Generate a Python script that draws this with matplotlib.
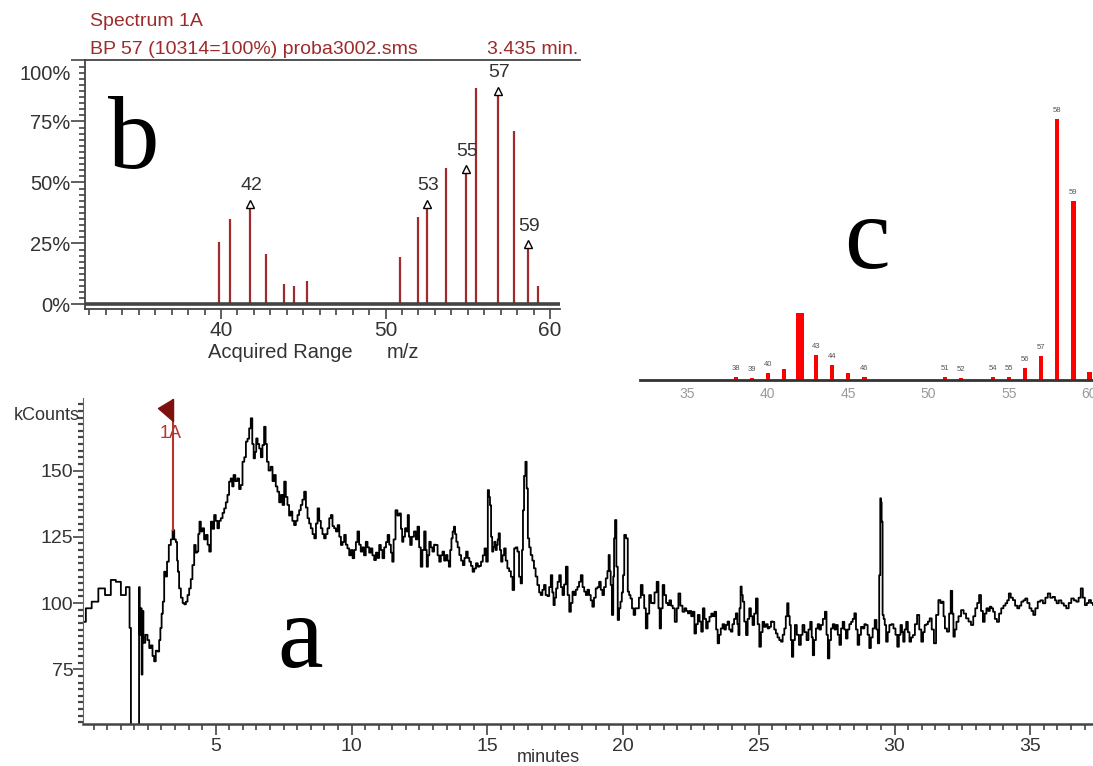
import numpy as np
import matplotlib
matplotlib.use('Agg')
import matplotlib.pyplot as plt
from matplotlib.path import Path
from matplotlib.transforms import ScaledTranslation

# ---------------- data ----------------
# (a) total ion chromatogram: retention time (min) and kCounts
time_min = [
 0.12,0.31,0.55,0.80,1.04,1.23,1.41,1.60,1.78,1.87,1.88,2.17,2.18,2.22,2.25,2.29,2.31,2.36,2.45,2.52,
 2.58,2.64,2.70,2.76,2.82,2.89,2.94,2.98,3.03,3.07,3.13,3.18,3.23,3.31,3.38,3.44,3.50,3.56,3.59,3.62,
 3.68,3.75,3.81,3.87,3.93,3.99,4.05,4.11,4.17,4.24,4.28,4.33,4.38,4.42,4.48,4.54,4.60,4.67,4.73,4.79,
 4.85,4.91,4.97,5.03,5.09,5.15,5.22,5.28,5.34,5.40,5.46,5.52,5.58,5.63,5.68,5.76,5.83,5.89,5.95,6.02,
 6.08,6.14,6.20,6.26,6.32,6.37,6.42,6.47,6.51,6.57,6.63,6.69,6.75,6.81,6.86,6.91,6.98,7.06,7.12,7.18,
 7.24,7.30,7.37,7.43,7.49,7.55,7.61,7.67,7.73,7.79,7.85,7.92,7.98,8.04,8.10,8.16,8.22,8.29,8.35,8.41,
 8.47,8.53,8.60,8.66,8.72,8.78,8.84,8.90,8.96,9.02,9.08,9.15,9.21,9.27,9.33,9.39,9.46,9.52,9.58,9.64,
 9.70,9.76,9.82,9.88,9.95,10.01,10.07,10.13,10.19,10.25,10.31,10.37,10.43,10.49,10.56,10.62,10.68,10.74,10.80,10.87,
 10.93,10.99,11.05,11.11,11.17,11.24,11.30,11.36,11.42,11.48,11.52,11.58,11.66,11.72,11.79,11.85,11.88,11.94,12.00,12.05,
 12.09,12.14,12.18,12.26,12.34,12.40,12.46,12.52,12.58,12.64,12.71,12.75,12.79,12.84,12.89,12.95,13.01,13.07,13.14,13.20,
 13.26,13.32,13.38,13.44,13.51,13.56,13.61,13.66,13.70,13.75,13.79,13.84,13.88,13.94,14.00,14.07,14.13,14.19,14.25,14.31,
 14.37,14.43,14.49,14.55,14.62,14.68,14.74,14.80,14.87,14.93,14.99,15.05,15.08,15.12,15.16,15.20,15.24,15.28,15.33,15.37,
 15.40,15.44,15.49,15.53,15.59,15.65,15.71,15.77,15.84,15.90,15.96,16.02,16.08,16.14,16.20,16.26,16.30,16.33,16.38,16.43,
 16.47,16.52,16.57,16.63,16.69,16.75,16.81,16.88,16.94,17.00,17.06,17.12,17.18,17.25,17.31,17.37,17.42,17.46,17.51,17.56,
 17.62,17.68,17.74,17.80,17.86,17.93,17.99,18.05,18.11,18.17,18.23,18.29,18.35,18.41,18.48,18.54,18.60,18.66,18.72,18.78,
 18.84,18.90,18.96,19.03,19.09,19.15,19.21,19.27,19.33,19.40,19.45,19.49,19.53,19.56,19.62,19.66,19.68,19.73,19.78,19.83,
 19.88,19.93,19.98,20.02,20.07,20.15,20.20,20.25,20.30,20.36,20.42,20.48,20.55,20.62,20.69,20.75,20.81,20.87,20.93,21.00,
 21.06,21.12,21.20,21.28,21.33,21.37,21.43,21.49,21.55,21.62,21.68,21.74,21.80,21.86,21.95,22.01,22.07,22.15,22.23,22.30,
 22.36,22.42,22.48,22.54,22.60,22.66,22.72,22.79,22.85,22.91,22.97,23.03,23.09,23.15,23.22,23.28,23.34,23.40,23.46,23.51,
 23.57,23.63,23.70,23.76,23.82,23.88,23.94,24.00,24.06,24.12,24.19,24.23,24.27,24.31,24.35,24.39,24.43,24.50,24.56,24.62,
 24.68,24.74,24.80,24.86,24.93,24.99,25.05,25.11,25.17,25.23,25.30,25.36,25.42,25.48,25.54,25.60,25.66,25.72,25.79,25.85,
 25.91,25.97,26.02,26.07,26.12,26.16,26.20,26.24,26.30,26.36,26.44,26.52,26.58,26.64,26.72,26.80,26.86,26.93,26.97,27.01,
 27.07,27.14,27.20,27.26,27.32,27.40,27.47,27.52,27.57,27.63,27.69,27.76,27.82,27.88,27.94,28.00,28.06,28.12,28.18,28.24,
 28.30,28.37,28.43,28.49,28.55,28.61,28.67,28.73,28.80,28.86,28.92,28.98,29.04,29.10,29.16,29.23,29.31,29.36,29.41,29.46,
 29.49,29.51,29.54,29.58,29.62,29.66,29.72,29.78,29.84,29.92,30.00,30.07,30.13,30.19,30.25,30.30,30.34,30.40,30.46,30.52,
 30.58,30.64,30.71,30.79,30.87,30.95,31.02,31.08,31.14,31.20,31.26,31.33,31.41,31.49,31.57,31.66,31.72,31.78,31.83,31.88,
 31.98,32.04,32.10,32.15,32.19,32.25,32.31,32.40,32.50,32.59,32.68,32.77,32.86,32.94,33.01,33.08,33.15,33.22,33.29,33.35,
 33.42,33.48,33.54,33.60,33.66,33.73,33.81,33.89,33.97,34.05,34.12,34.18,34.24,34.32,34.40,34.48,34.56,34.63,34.71,34.78,
 34.85,34.93,35.01,35.08,35.14,35.23,35.32,35.42,35.51,35.60,35.69,35.78,35.88,35.94,36.00,36.10,36.19,36.28,36.37,36.46,
 36.56,36.65,36.74,36.82,36.90,36.97,37.05,37.12,37.20,37.27,37.34]
kcounts = [
 92.9,98.0,100.5,105.5,103.0,108.7,108.0,103.0,106.0,90.6,50.0,50.0,106.0,88.0,98.0,73.0,97.0,85.0,88.0,86.0,
 83.0,84.0,80.0,78.0,82.0,81.7,86.0,90.6,96.0,100.5,111.8,110.0,115.6,121.9,124.0,127.5,124.0,123.0,116.0,111.8,
 105.5,102.0,100.0,99.5,100.5,103.0,105.5,109.0,114.3,121.9,119.0,119.4,126.0,130.7,127.0,128.2,124.0,125.7,122.0,119.4,
 130.7,128.0,133.2,131.0,128.2,131.0,132.0,134.0,135.7,138.0,140.8,145.8,147.0,144.0,148.3,146.0,147.0,143.0,144.5,153.3,
 155.0,160.9,162.0,165.9,169.7,160.0,154.6,157.0,162.1,160.0,158.3,155.0,159.6,166.5,160.0,153.3,150.0,151.4,146.0,148.3,
 144.0,142.0,138.0,140.8,137.0,145.8,140.0,137.0,133.0,134.5,131.0,129.4,131.0,133.2,135.0,137.0,139.0,142.0,136.0,132.0,
 130.0,128.2,126.0,124.4,130.0,135.7,131.0,128.2,126.0,124.4,126.0,128.2,132.0,133.2,129.0,128.2,127.0,129.4,125.0,121.9,
 123.0,125.7,122.0,120.6,118.0,120.0,116.9,120.0,123.0,127.0,122.0,119.4,121.0,118.0,123.1,121.0,119.0,120.6,118.0,116.2,
 119.0,117.0,121.9,120.0,116.9,121.0,123.0,125.7,122.0,119.0,115.6,124.0,135.0,133.0,133.8,128.0,123.1,125.0,128.2,127.0,
 133.2,125.0,121.9,125.0,127.0,124.0,128.8,121.0,113.7,120.0,127.0,120.0,113.7,118.0,123.1,121.0,119.4,122.0,121.9,118.0,
 115.6,118.0,119.4,116.0,118.1,116.0,113.7,120.0,124.4,127.0,128.8,126.0,123.1,121.0,118.1,116.0,114.3,117.0,119.4,117.0,
 115.6,114.0,111.8,113.0,115.0,113.7,114.0,115.6,118.0,120.6,115.6,142.6,140.0,136.9,125.0,119.4,121.0,123.1,120.0,121.9,
 124.0,126.3,120.0,115.6,118.0,120.6,116.0,113.1,112.0,109.9,104.9,120.6,121.0,119.4,109.9,107.4,120.0,135.0,148.0,153.3,
 143.2,124.4,121.0,118.1,116.0,113.1,110.0,106.8,104.0,103.0,105.0,106.8,103.0,102.6,106.0,110.5,104.0,99.2,102.0,105.5,
 108.0,110.5,106.0,103.0,107.0,113.7,103.0,96.7,100.0,104.3,103.0,105.0,106.1,108.0,110.5,106.0,104.3,103.0,105.0,103.0,
 101.0,98.6,102.0,105.5,106.0,108.0,105.0,103.0,106.0,109.3,112.0,118.1,112.0,106.8,95.5,110.0,124.4,131.3,113.7,93.6,
 98.0,100.5,104.0,110.5,125.7,124.4,104.3,103.0,101.7,98.0,95.5,98.0,98.0,102.0,106.8,103.0,98.0,90.4,96.0,103.0,
 100.0,99.9,104.0,108.0,98.0,90.4,98.0,106.8,103.0,100.0,99.2,101.0,99.0,98.0,92.9,98.0,103.6,99.0,96.7,98.0,
 97.0,96.1,97.0,95.0,96.7,88.5,92.0,95.5,93.0,89.2,98.0,94.0,90.4,93.0,94.8,96.0,95.0,96.7,90.0,84.8,
 88.0,90.4,92.0,90.0,91.7,93.0,90.0,89.2,92.0,94.0,96.1,92.0,87.9,98.0,106.2,103.0,100.5,93.0,87.9,94.0,
 98.0,95.0,91.7,96.0,101.7,92.0,83.5,89.0,92.9,91.0,92.0,90.4,91.0,93.0,92.9,90.0,88.5,87.0,86.0,85.4,
 88.0,90.4,95.0,99.9,95.0,91.7,86.0,79.7,86.0,91.7,88.0,84.2,88.0,91.7,89.0,86.0,90.0,92.9,87.0,80.3,
 86.0,90.4,92.0,90.0,91.7,94.0,96.7,88.0,79.1,86.0,90.4,92.0,90.0,91.7,88.0,84.2,90.4,92.9,90.0,86.6,
 90.0,92.0,92.9,94.0,96.1,90.0,84.2,88.0,91.0,90.4,92.0,91.7,88.0,83.0,87.0,90.4,93.6,90.0,84.8,110.5,
 139.5,138.0,130.7,95.5,94.0,91.7,85.4,89.0,91.7,92.0,90.4,88.0,83.5,88.0,91.7,89.0,85.4,90.0,92.9,89.0,
 85.4,87.0,87.9,92.0,95.5,90.0,85.4,89.0,91.7,92.0,93.0,94.2,90.0,84.8,95.5,101.1,100.0,100.5,95.0,90.4,
 89.2,96.0,104.6,96.0,87.3,90.0,92.9,95.0,97.3,96.0,94.2,93.0,91.7,95.0,98.0,100.0,103.0,97.0,92.9,96.0,
 98.0,97.0,98.6,98.0,96.7,94.0,92.9,96.0,98.0,99.0,99.9,101.0,103.6,102.0,101.1,99.0,98.0,99.0,100.5,101.0,
 101.7,100.0,98.0,97.0,95.5,98.0,100.5,101.0,99.9,102.0,103.6,102.0,102.3,101.0,99.9,101.0,99.9,99.0,98.0,100.0,
 101.7,101.0,100.5,102.0,105.5,102.0,99.2,100.0,101.1,100.0,99.2]
a_xticks = [5, 10, 15, 20, 25, 30, 35]
a_yticks = [75, 100, 125, 150]
spectrum_time = 3.435

# (b) mass spectrum at 3.435 min (relative abundance, %)
mz_b = [39.9, 40.55, 41.76, 42.74, 43.85, 44.44, 45.25, 50.85, 51.96, 52.51,
        53.66, 54.88, 55.49, 56.86, 57.81, 58.64, 59.29]
int_b = [25.5, 34.9, 41.2, 20.7, 8.3, 7.7, 9.8, 19.6, 35.9, 41.2,
         56.1, 55.4, 88.6, 87.6, 71.1, 24.7, 7.7]
lab_b = ['', '', '42', '', '', '', '', '', '', '53',
         '', '55', '', '57', '', '59', '']
b_xticks = [40, 50, 60]
b_yticks = [0, 25, 50, 75, 100]
b_yticklabels = ['0%', '25%', '50%', '75%', '100%']

# (c) library spectrum (relative abundance)
mz_c = [38, 39, 40, 41, 42, 43, 44, 45, 46, 51, 52, 54, 55, 56, 57, 58, 59, 60]
int_c = [1.0, 0.9, 2.6, 4.3, 25.6, 9.5, 5.6, 2.6, 1.0, 1.0, 0.9, 1.0, 1.0,
         4.7, 9.2, 100.0, 68.7, 3.2]
lab_c = ['38', '39', '40', '', '', '43', '44', '', '46', '51', '52', '54', '55',
         '56', '57', '58', '59', '']
c_xticks = [35, 40, 45, 50, 55, 60]

# ---------------- figure ----------------
W, H = 1093, 766
plt.rcParams['font.family'] = ['Liberation Sans', 'DejaVu Sans']
fig = plt.figure(figsize=(W / 100, H / 100), dpi=100)


def box(l, t, r, b):
    return [l / W, 1 - b / H, (r - l) / W, (b - t) / H]


def ftxt(px, py, s, **kw):
    fig.text(px / W, 1 - py / H, s, **kw)


DARK = '#333333'
SPEC_RED = '#9e2b2b'

# ---- panel a ----
ax_a = fig.add_axes(box(83, 398, 1093, 724))
ax_a.patch.set_visible(False)
ax_a.plot(time_min, kcounts, color='black', lw=1.3, drawstyle='steps-mid')
ax_a.set_xlim(0.11, 37.31)
ax_a.set_ylim(54.34, 177.36)
ax_a.set_xticks(a_xticks)
ax_a.set_xticks(np.arange(0.5, 37.3, 0.5), minor=True)
ax_a.set_yticks(a_yticks)
ax_a.set_yticks(np.arange(55, 177.4, 2.5), minor=True)
ax_a.tick_params(axis='x', which='major', direction='out', length=8, width=1.2,
                 labelsize=14, pad=2, color='#444', labelcolor=DARK)
ax_a.tick_params(axis='x', which='minor', direction='out', length=4.5, width=1.2, color='#444')
ax_a.tick_params(axis='y', which='major', direction='out', length=7, width=1.2,
                 labelsize=14, pad=0, color='#444', labelcolor=DARK)
ax_a.tick_params(axis='y', which='minor', direction='out', length=3.5, width=1.6, color='#444')
for s in ('top', 'right'):
    ax_a.spines[s].set_visible(False)
ax_a.spines['bottom'].set_color('#444')
ax_a.spines['bottom'].set_linewidth(1.8)
ax_a.spines['left'].set_color('#666')
ax_a.spines['left'].set_linewidth(0.8)

# spectrum marker "1A"
y1a = np.interp(spectrum_time, time_min, kcounts)
ytop = ax_a.get_ylim()[1] - 0.3
ax_a.vlines(spectrum_time, y1a, ytop, color='#b8322e', lw=1.5, zorder=3)
flag = Path([(0, 0), (-15, -9), (0, -22), (0, 0)],
            [Path.MOVETO, Path.LINETO, Path.LINETO, Path.CLOSEPOLY])
ax_a.plot([spectrum_time], [ytop], marker=flag, markersize=31.7, color='#7f1010',
          mec='#7f1010', clip_on=False, zorder=4)
ax_a.annotate('1A', (spectrum_time, ytop), xytext=(-3, -35), textcoords='offset pixels',
              ha='center', va='center', fontsize=13, color='#b8322e', zorder=2)

ftxt(14, 415, 'kCounts', ha='left', va='center', fontsize=13, color=DARK)
ftxt(548, 757, 'minutes', ha='center', va='center', fontsize=13, color=DARK)
ftxt(300, 667, 'a', ha='center', va='baseline', fontsize=74, family='Liberation Serif')

# ---- panel b ----
ax_b = fig.add_axes(box(85, 60, 580, 309))
ax_b.patch.set_visible(False)
xb0, xb_end = 31.73, 60.6
ax_b.set_xlim(xb0, 61.82)
ax_b.set_ylim(-1.85, 100.2)
ax_b.vlines(mz_b, 0, int_b, color='#a32a2a', lw=1.6)
ax_b.hlines(0, xb0, xb_end, color='#444', lw=2.6)
for m, h, lab in zip(mz_b, int_b, lab_b):
    if lab:
        ax_b.plot([m], [h], marker='^', ms=6, mfc='white', mec='black', mew=1.0)
        ax_b.annotate(lab, (m, h), xytext=(1, 18), textcoords='offset pixels',
                      ha='center', va='center', fontsize=14, color=DARK)
ax_b.set_xticks(b_xticks)
ax_b.set_xticks(np.arange(32, 60.5, 1), minor=True)
ax_b.set_yticks(b_yticks)
ax_b.set_yticklabels(b_yticklabels)
ax_b.set_yticks(np.arange(0, 100.1, 2.5), minor=True)
ax_b.tick_params(axis='x', which='major', direction='out', length=7.5, width=1.2,
                 labelsize=15, pad=1, color='#444', labelcolor=DARK)
ax_b.tick_params(axis='x', which='minor', direction='out', length=4.5, width=1.2, color='#444')
ax_b.tick_params(axis='y', which='major', direction='out', length=10, width=1.2,
                 labelsize=14.5, pad=0.5, color='#444', labelcolor=DARK)
ax_b.tick_params(axis='y', which='minor', direction='out', length=4.5, width=1.2, color='#444')
lab100 = ax_b.get_yticklabels()[-1]
lab100.set_transform(lab100.get_transform() + ScaledTranslation(0, -0.12, fig.dpi_scale_trans))
ax_b.spines['right'].set_visible(False)
ax_b.spines['bottom'].set_bounds(xb0, xb_end)
for s in ('left', 'bottom', 'top'):
    ax_b.spines[s].set_color('#444')
    ax_b.spines[s].set_linewidth(1.3)

ftxt(90, 21, 'Spectrum 1A', ha='left', va='center', fontsize=14, color=SPEC_RED)
ftxt(90, 49, 'BP 57 (10314=100%) proba3002.sms', ha='left', va='center', fontsize=14, color=SPEC_RED)
ftxt(578, 49, '3.435 min.', ha='right', va='center', fontsize=14, color=SPEC_RED)
ftxt(280, 353, 'Acquired Range', ha='center', va='center', fontsize=14.5, color=DARK)
ftxt(403, 353, 'm/z', ha='center', va='center', fontsize=14.5, color=DARK)
ftxt(134, 168, 'b', ha='center', va='baseline', fontsize=74, family='Liberation Serif')

# ---- panel c ----
ax_c = fig.add_axes(box(640, 100, 1093, 380))
ax_c.patch.set_visible(False)
ax_c.set_xlim(32.05, 60.22)
ax_c.set_ylim(0, 107.4)
widths = np.where(np.array(mz_c) == 42, 0.54, 0.27)
ax_c.bar(mz_c, int_c, width=widths, color='#ff0000', clip_on=True)
for m, h, lab in zip(mz_c, int_c, lab_c):
    if lab:
        ax_c.annotate(lab, (m, h), xytext=(0, 5), textcoords='offset pixels',
                      ha='center', va='bottom', fontsize=5.5, color='#555')
ax_c.set_xticks(c_xticks)
ax_c.set_yticks([])
ax_c.tick_params(axis='x', length=0, pad=5, labelsize=10, labelcolor='#9a9a9a')
for s in ('left', 'right', 'top'):
    ax_c.spines[s].set_visible(False)
ax_c.spines['bottom'].set_color('#333')
ax_c.spines['bottom'].set_linewidth(2)
ftxt(867, 268, 'c', ha='center', va='baseline', fontsize=74, family='Liberation Serif')

fig.savefig('out.png', dpi=100)
